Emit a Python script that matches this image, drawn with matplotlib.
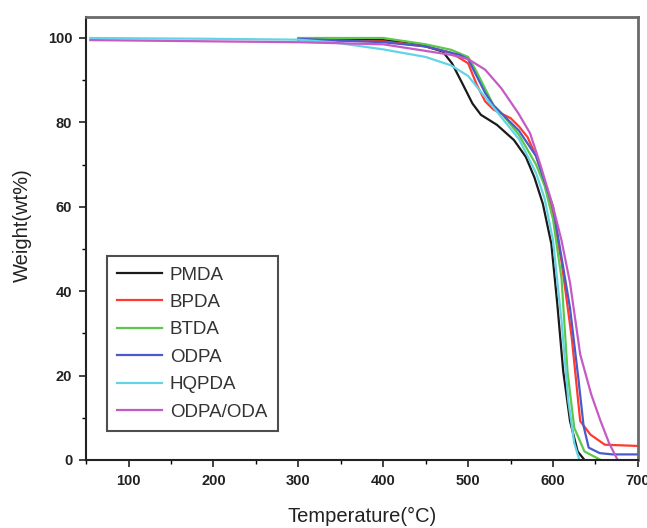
import matplotlib
matplotlib.use("Agg")
import matplotlib.pyplot as plt
from matplotlib.ticker import MultipleLocator

# TGA curves (temperature in C, weight in wt%)
pmda_t = [300, 400, 430, 450, 470, 481, 493, 505, 515, 534, 554, 568, 578, 588, 598, 605, 612, 620, 629, 637]
pmda_w = [99.6, 99.5, 99.0, 98.0, 96.8, 94.0, 89.3, 84.5, 81.8, 79.4, 75.8, 71.8, 67.0, 60.7, 51.2, 37.0, 21.0, 9.2, 2.0, 0.0]

bpda_t = [300, 400, 450, 480, 500, 510, 520, 530, 540, 550, 560, 570, 580, 590, 600, 610, 622, 632, 644, 661, 700]
bpda_w = [99.5, 99.2, 98.0, 96.5, 94.0, 89.0, 85.0, 83.0, 82.0, 81.0, 79.0, 76.5, 72.0, 66.0, 58.0, 47.0, 29.0, 9.2, 6.0, 3.6, 3.3]

btda_t = [300, 400, 450, 480, 500, 510, 520, 530, 540, 560, 580, 590, 600, 610, 617, 625, 637, 656]
btda_w = [100.0, 100.0, 98.5, 97.2, 95.5, 92.0, 88.0, 84.0, 82.0, 77.0, 70.0, 65.0, 57.0, 43.0, 21.0, 7.6, 2.0, 0.0]

odpa_t = [300, 400, 450, 490, 500, 510, 520, 530, 540, 560, 580, 600, 610, 620, 630, 636, 642, 655, 670, 700]
odpa_w = [99.8, 99.0, 98.0, 96.0, 95.0, 91.0, 87.0, 84.0, 82.0, 78.0, 72.0, 60.0, 48.0, 36.0, 19.0, 8.0, 2.9, 1.6, 1.3, 1.3]

hqpda_t = [55, 200, 300, 340, 400, 450, 480, 500, 520, 540, 560, 580, 590, 600, 610, 618, 625, 631]
hqpda_w = [100.0, 99.8, 99.6, 99.0, 97.3, 95.5, 93.5, 91.0, 86.0, 81.0, 76.0, 68.0, 62.0, 52.0, 33.0, 14.0, 4.0, 0.0]

oda_t = [55, 200, 300, 400, 480, 500, 520, 539, 559, 573, 585, 600, 610, 620, 632, 645, 656, 666, 676]
oda_w = [99.5, 99.2, 99.0, 98.5, 96.0, 95.0, 92.5, 88.1, 82.2, 77.4, 70.0, 60.0, 52.0, 42.0, 25.0, 15.5, 9.2, 4.0, 0.0]

series = [
    ("PMDA", pmda_t, pmda_w, "#1a1a1a"),
    ("BPDA", bpda_t, bpda_w, "#ff3b2f"),
    ("BTDA", btda_t, btda_w, "#5cc84a"),
    ("ODPA", odpa_t, odpa_w, "#4a5acb"),
    ("HQPDA", hqpda_t, hqpda_w, "#62d4e6"),
    ("ODPA/ODA", oda_t, oda_w, "#c55ac5"),
]

plt.rcParams["font.family"] = ["Liberation Sans", "DejaVu Sans"]

fig = plt.figure(figsize=(6.47, 5.28), dpi=100)
ax = fig.add_axes([0.133, 0.129, 0.853, 0.839])

for name, t, w, col in series:
    ax.plot(t, w, color=col, lw=1.6, label=name)

ax.set_xlim(50, 700)
ax.set_ylim(0, 105)
ax.xaxis.set_major_locator(MultipleLocator(100))
ax.xaxis.set_minor_locator(MultipleLocator(50))
ax.yaxis.set_major_locator(MultipleLocator(20))
ax.yaxis.set_minor_locator(MultipleLocator(10))
ax.tick_params(which="major", length=5, width=1.2, labelsize=10.5, colors="#222222", pad=5)
ax.tick_params(which="minor", length=3, width=1.0)
for lab in ax.get_xticklabels() + ax.get_yticklabels():
    lab.set_fontweight("bold")

for side in ("top", "right"):
    ax.spines[side].set_color("#6a6a6a")
    ax.spines[side].set_linewidth(2.0)
for side in ("left", "bottom"):
    ax.spines[side].set_color("#222222")
    ax.spines[side].set_linewidth(1.5)

ax.set_xlabel("Temperature(°C)", fontsize=14.5, color="#222222")
ax.set_ylabel("Weight(wt%)", fontsize=14.5, color="#222222")
ax.xaxis.set_label_coords(0.5, -0.107)
ax.yaxis.set_label_coords(-0.098, 0.53)

leg = ax.legend(loc="lower left", bbox_to_anchor=(0.038, 0.065), fontsize=13.5,
                frameon=True, fancybox=False, edgecolor="#222222",
                handlelength=2.4, handletextpad=0.4, labelspacing=0.55,
                borderpad=0.55, borderaxespad=0)
leg.get_frame().set_linewidth(1.5)
for txt in leg.get_texts():
    txt.set_color("#333333")

fig.savefig("out.png", dpi=100, facecolor="white")
